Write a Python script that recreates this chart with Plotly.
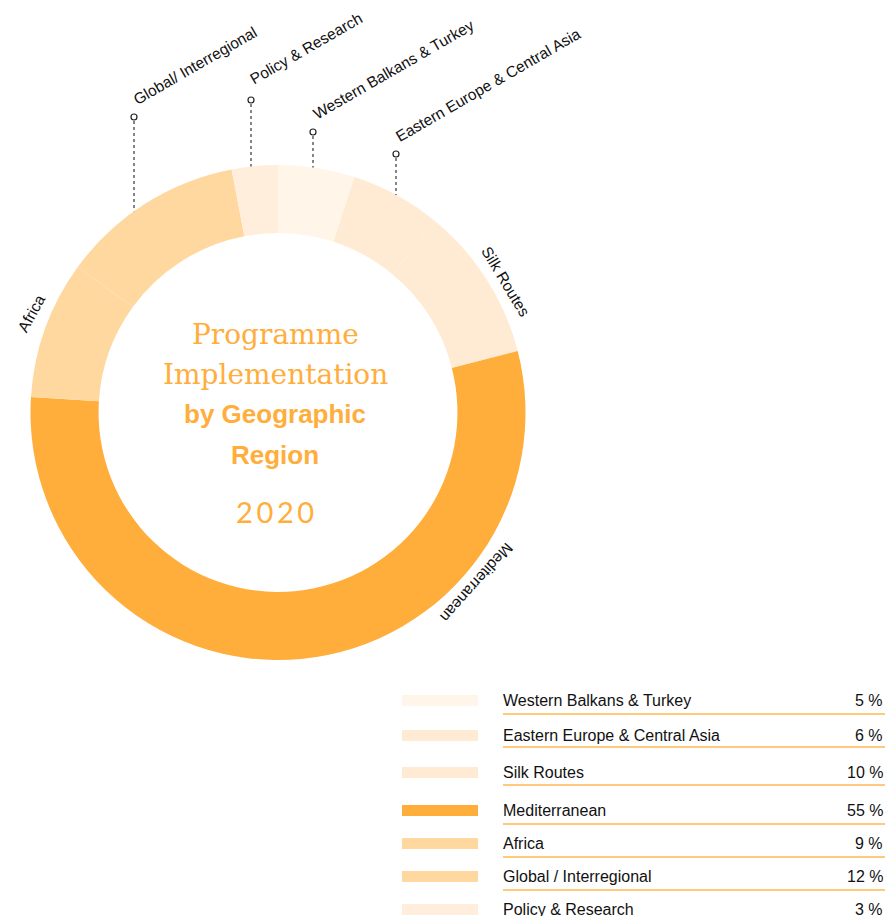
import plotly.graph_objects as go

# ---- data ----
regions = ["Western Balkans & Turkey", "Eastern Europe & Central Asia", "Silk Routes",
           "Mediterranean", "Africa", "Global / Interregional", "Policy & Research"]
shares = [5, 6, 10, 55, 9, 12, 3]
colors = ["#FFF5E9", "#FFEBD3", "#FFEBD3", "#FFAD3B", "#FFD8A0", "#FFD8A0", "#FFEEDC"]

top_labels = ["Global/ Interregional", "Policy & Research",
              "Western Balkans & Turkey", "Eastern Europe & Central Asia"]
ring_labels = ["Silk Routes", "Mediterranean", "Africa"]

W, H = 885, 916
CX, CY, R = 278, 412.5, 247.5
ORANGE = "#FFAD3B"


def px(x):
    return x / W


def py(y):
    return 1 - y / H


fig = go.Figure(go.Pie(
    labels=regions,
    values=shares,
    sort=False,
    direction="clockwise",
    rotation=0,
    hole=0.725,
    marker={"colors": colors, "line": {"width": 0}},
    textinfo="none",
    hoverinfo="label+percent",
    domain={"x": [px(CX - R), px(CX + R)], "y": [py(CY + R), py(CY - R)]},
    showlegend=False,
))

shapes = []
annotations = []

# centre title
title_lines = [
    ("Programme", 334, "DejaVu Serif", 28, False),
    ("Implementation", 374, "DejaVu Serif", 28, False),
    ("by Geographic", 414, "Liberation Sans", 26, True),
    ("Region", 455, "Liberation Sans", 26, True),
    ("2\u20090\u20092\u20090", 511, "Lato", 29, False),
]
for txt, y, fam, size, bold in title_lines:
    annotations.append(dict(
        x=px(CX - 3), y=py(y), xref="paper", yref="paper",
        text=f"<b>{txt}</b>" if bold else txt, showarrow=False,
        font={"family": fam, "size": size, "color": ORANGE},
        xanchor="center", yanchor="middle",
    ))

# top labels with dotted leaders
leader_x = [134, 251, 313, 396]
marker_y = [117, 100, 132, 154]
label_c = [(195, 65), (306, 49), (393, 69), (489, 85)]
for lab, lx, my, (tx, ty) in zip(top_labels, leader_x, marker_y, label_c):
    end_y = CY - (R ** 2 - (lx - CX) ** 2) ** 0.5
    shapes.append(dict(type="line", xref="paper", yref="paper",
                       x0=px(lx), x1=px(lx), y0=py(my + 4), y1=py(end_y),
                       line={"color": "#222222", "width": 1.1, "dash": "dot"}))
    shapes.append(dict(type="circle", xref="paper", yref="paper",
                       x0=px(lx - 3), x1=px(lx + 3), y0=py(my - 3), y1=py(my + 3),
                       line={"color": "#222222", "width": 1.2}, fillcolor="white"))
    annotations.append(dict(
        x=px(tx), y=py(ty), xref="paper", yref="paper", text=lab,
        showarrow=False, textangle=-30,
        font={"family": "Liberation Sans", "size": 15.5, "color": "#111111"},
        xanchor="center", yanchor="middle",
    ))

# labels following the ring
ring_pos = [(506, 281, 59), (477, 583, 132), (31, 313, -61)]
for lab, (tx, ty, ang) in zip(ring_labels, ring_pos):
    annotations.append(dict(
        x=px(tx), y=py(ty), xref="paper", yref="paper", text=lab,
        showarrow=False, textangle=ang,
        font={"family": "Liberation Sans", "size": 15.5, "color": "#111111"},
        xanchor="center", yanchor="middle",
    ))

# table-style legend
row_y = [700.5, 735.5, 772.5, 810.5, 843.5, 876.5, 909.5]
line_y = [714, 747, 785, 824, 857, 890, None]
for reg, val, col, ry, ly in zip(regions, shares, colors, row_y, line_y):
    shapes.append(dict(type="rect", xref="paper", yref="paper",
                       x0=px(402), x1=px(478), y0=py(ry + 5.5), y1=py(ry - 5.5),
                       line={"width": 0}, fillcolor=col))
    annotations.append(dict(
        x=px(501), y=py(ry), xref="paper", yref="paper", text=reg,
        showarrow=False, xanchor="left", yanchor="middle",
        font={"family": "Liberation Sans", "size": 16, "color": "#111111"},
    ))
    annotations.append(dict(
        x=px(885), y=py(ry), xref="paper", yref="paper", text=f"{val} %",
        showarrow=False, xanchor="right", yanchor="middle",
        font={"family": "Liberation Sans", "size": 16, "color": "#111111"},
    ))
    if ly is not None:
        shapes.append(dict(type="line", xref="paper", yref="paper",
                           x0=px(503), x1=px(885), y0=py(ly), y1=py(ly),
                           line={"color": "#FFC97E", "width": 2}))

fig.update_layout(
    width=W, height=H,
    margin={"t": 0, "b": 0, "l": 0, "r": 0},
    paper_bgcolor="white",
    plot_bgcolor="white",
    shapes=shapes,
    annotations=annotations,
)

# drop the browser's default body margin so the figure sits at the page corner
fig.write_html("out.html", config={"displayModeBar": False},
               post_script="document.body.style.margin='0';")
